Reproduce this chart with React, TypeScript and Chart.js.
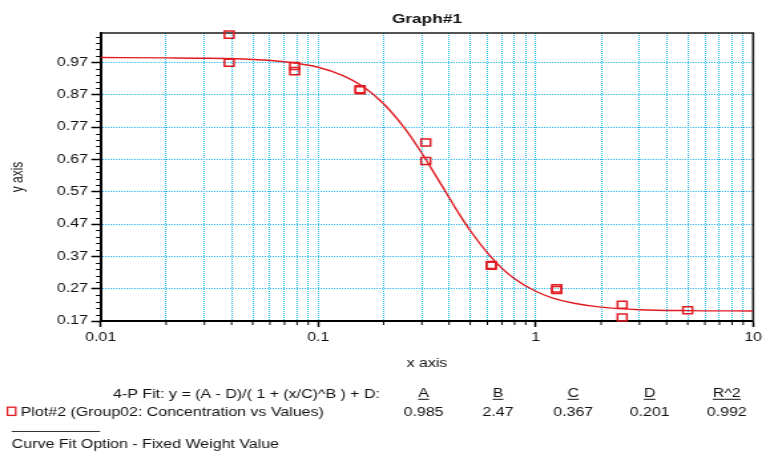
import React, { useEffect, useRef } from "react";
import { Chart, registerables } from "chart.js";

Chart.register(...registerables);

// ---- data ----
const concentrations = [0.039, 0.039, 0.078, 0.078, 0.156, 0.156, 0.3125, 0.3125, 0.625, 0.625, 1.25, 1.25, 2.5, 2.5, 5];
const measuredValues = [1.056, 0.969, 0.959, 0.943, 0.887, 0.884, 0.722, 0.665, 0.343, 0.341, 0.271, 0.266, 0.22, 0.181, 0.203];

const curveX = [0.01, 0.02, 0.03, 0.05, 0.07, 0.1, 0.13, 0.16, 0.2, 0.25, 0.3, 0.35, 0.4, 0.45, 0.5, 0.6, 0.7, 0.8, 1, 1.2, 1.5, 2, 3, 5, 10];
const curveY = [0.985, 0.984, 0.983, 0.979, 0.972, 0.955, 0.929, 0.896, 0.842, 0.766, 0.689, 0.616, 0.552, 0.496, 0.45, 0.381, 0.333, 0.301, 0.262, 0.241, 0.225, 0.213, 0.205, 0.202, 0.201];

const yTickValues = [0.17, 0.27, 0.37, 0.47, 0.57, 0.67, 0.77, 0.87, 0.97];
const yTickLabels = ["0.17", "0.27", "0.37", "0.47", "0.57", "0.67", "0.77", "0.87", "0.97"];
const xDecades = [0.01, 0.1, 1, 10];
const xDecadeLabels = ["0.01", "0.1", "1", "10"];

const chartTitle = "Graph#1";
const xAxisTitle = "x axis";
const yAxisTitle = "y axis";
const fitLabel = "4-P Fit: y = (A - D)/( 1 + (x/C)^B ) + D:";
const seriesLabel = "Plot#2 (Group02: Concentration vs Values)";
const fitParamNames = ["A", "B", "C", "D", "R^2"];
const fitParamValues = ["0.985", "2.47", "0.367", "0.201", "0.992"];
const footerLabel = "Curve Fit Option - Fixed Weight Value";

// ---- derived tick lists ----
const Y_MIN = 0.17;
const Y_MAX = 1.061;
const yMinorTicks: number[] = [];
yTickValues.forEach((v) => {
  for (let k = 1; k <= 4; k++) {
    const m = +(v + k * 0.02).toFixed(3);
    if (m < Y_MAX) yMinorTicks.push(m);
  }
});
const xTickValues: number[] = [];
const xMinorTicks: number[] = [];
xDecades.forEach((d, i) => {
  xTickValues.push(d);
  if (i < xDecades.length - 1) {
    for (let k = 2; k <= 9; k++) {
      const m = +(d * k).toPrecision(6);
      xTickValues.push(m);
      xMinorTicks.push(m);
    }
  }
});
const isDecade = (v: number) => xDecades.some((d) => Math.abs(d - v) < d * 1e-6);

const FONT = '"Liberation Sans", Arial, sans-serif';
const RED = "#e01b22";
const GRID = "#1cb8f2";
const CANVAS_W = 576;
const CANVAS_H = 451;

const overlayPlugin = {
  id: "overlay",
  beforeDatasetsDraw(chart: any) {
    const { ctx, chartArea } = chart;
    const { left, right, top, bottom } = chartArea;
    const xs = chart.scales.x;
    const ys = chart.scales.y;
    ctx.save();
    // top and right frame
    ctx.strokeStyle = "#1c1c1c";
    ctx.lineWidth = 1.6;
    ctx.beginPath();
    ctx.moveTo(left, top);
    ctx.lineTo(right, top);
    ctx.lineTo(right, bottom + 1);
    ctx.stroke();
    // minor ticks
    ctx.strokeStyle = "#000";
    ctx.lineWidth = 1;
    ctx.beginPath();
    yMinorTicks.forEach((v) => {
      const py = Math.round(ys.getPixelForValue(v)) + 0.5;
      ctx.moveTo(left - 3.5, py);
      ctx.lineTo(left, py);
    });
    xMinorTicks.forEach((v) => {
      const px = xs.getPixelForValue(v);
      ctx.moveTo(px, bottom);
      ctx.lineTo(px, bottom + 4);
    });
    ctx.stroke();
    ctx.restore();
  },
  afterDraw(chart: any) {
    const { ctx, chartArea } = chart;
    const { left, right } = chartArea;
    ctx.save();
    ctx.fillStyle = "#111";
    // title
    ctx.font = `bold 13px ${FONT}`;
    ctx.textAlign = "center";
    ctx.textBaseline = "alphabetic";
    ctx.fillText(chartTitle, (left + right) / 2, 22.5);
    // x axis title
    ctx.font = `12px ${FONT}`;
    ctx.fillText(xAxisTitle, (left + right) / 2, 366.5);
    // y axis title
    ctx.save();
    ctx.translate(13.2, 177);
    ctx.rotate(-Math.PI / 2);
    ctx.textBaseline = "middle";
    ctx.fillText(yAxisTitle, 0, 0);
    ctx.restore();
    // fit equation
    ctx.textAlign = "right";
    ctx.fillText(fitLabel, 285.7, 397.5);
    // param columns
    const colX = [318.5, 374.5, 431, 488.5, 546.5];
    ctx.textAlign = "center";
    fitParamNames.forEach((n, i) => {
      ctx.fillText(n, colX[i], 397);
      const w = ctx.measureText(n).width;
      ctx.fillRect(colX[i] - w / 2, 398.8, w, 1);
      ctx.fillText(fitParamValues[i], colX[i], 416);
    });
    // series legend
    ctx.strokeStyle = RED;
    ctx.lineWidth = 1.3;
    ctx.strokeRect(5.6, 407.2, 6.2, 8.2);
    ctx.textAlign = "left";
    ctx.fillText(seriesLabel, 15.6, 416);
    // separator
    ctx.fillStyle = "#333";
    ctx.fillRect(8.8, 431, 66.4, 1);
    ctx.fillStyle = "#111";
    ctx.fillText(footerLabel, 8.8, 448);
    ctx.restore();
  },
};

export default function App() {
  const canvasRef = useRef<HTMLCanvasElement | null>(null);

  useEffect(() => {
    const canvas = canvasRef.current;
    if (!canvas) return;
    const chart = new Chart(canvas, {
      type: "scatter",
      data: {
        datasets: [
          {
            label: seriesLabel,
            data: concentrations.map((x, i) => ({ x, y: measuredValues[i] })),
            pointStyle: "rect",
            pointRadius: 5,
            pointBorderWidth: 1.5,
            pointBackgroundColor: "rgba(0,0,0,0)",
            pointBorderColor: RED,
            showLine: false,
            clip: false,
          } as any,
          {
            label: "fit",
            data: curveX.map((x, i) => ({ x, y: curveY[i] })),
            showLine: true,
            borderColor: RED,
            borderWidth: 1.4,
            pointRadius: 0,
            cubicInterpolationMode: "monotone",
          } as any,
        ],
      },
      options: {
        animation: false,
        responsive: false,
        devicePixelRatio: 1,
        events: [],
        layout: { padding: { top: 33, right: 6, left: 0, bottom: 0 } },
        plugins: {
          legend: { display: false },
          title: { display: false },
          tooltip: { enabled: false },
        },
        scales: {
          x: {
            type: "logarithmic",
            position: "bottom",
            min: 0.01,
            max: 10,
            afterBuildTicks: (s: any) => {
              s.ticks = xTickValues.map((v) => ({ value: v, major: isDecade(v) }));
            },
            afterFit: (s: any) => {
              s.height = 130;
            },
            ticks: {
              autoSkip: false,
              maxRotation: 0,
              minRotation: 0,
              padding: 3,
              color: "#111",
              font: { family: FONT, size: 12 },
              callback: (v: any) => {
                const i = xDecades.findIndex((d) => Math.abs(d - Number(v)) < d * 1e-6);
                return i >= 0 ? xDecadeLabels[i] : "";
              },
            },
            grid: {
              color: GRID,
              lineWidth: 1,
              drawTicks: true,
              tickLength: 6,
              tickWidth: 1.5,
              tickColor: (c: any) => (c.tick && isDecade(c.tick.value) ? "#000" : "rgba(0,0,0,0)"),
            },
            border: { display: true, color: "#000", width: 2, dash: [1, 1] },
          } as any,
          y: {
            type: "linear",
            position: "left",
            min: Y_MIN,
            max: Y_MAX,
            afterBuildTicks: (s: any) => {
              s.ticks = yTickValues.map((v) => ({ value: v }));
            },
            afterFit: (s: any) => {
              s.width = 75.7;
            },
            ticks: {
              autoSkip: false,
              padding: 2.5,
              color: "#111",
              font: { family: FONT, size: 12 },
              callback: (_v: any, i: number) => yTickLabels[i],
            },
            grid: {
              color: GRID,
              lineWidth: 1,
              drawTicks: true,
              tickLength: 7,
              tickWidth: 1.5,
              tickColor: "#000",
            },
            border: { display: true, color: "#000", width: 2, dash: [1, 1] },
          } as any,
        },
      },
      plugins: [overlayPlugin],
    });
    return () => chart.destroy();
  }, []);

  return (
    <div style={{ position: "absolute", left: 0, top: 0, width: 766, height: 451, background: "#fff" }}>
      <canvas
        ref={canvasRef}
        width={CANVAS_W}
        height={CANVAS_H}
        style={{ width: "766px", height: "451px", display: "block" }}
      />
    </div>
  );
}
